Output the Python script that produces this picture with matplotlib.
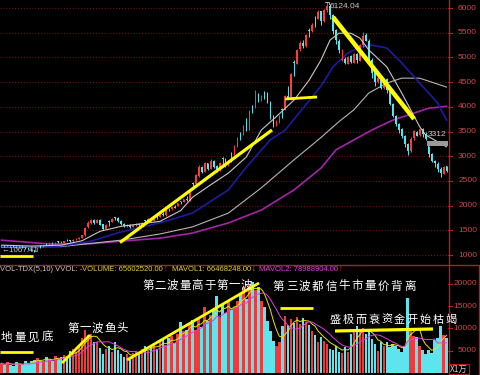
import matplotlib
matplotlib.use('Agg')
import matplotlib.pyplot as plt
from matplotlib import font_manager
from matplotlib.lines import Line2D
from matplotlib.patches import Rectangle
import numpy as np
import pandas as pd

# ---------------- data ----------------
opens = [
    1180, 1192, 1178, 1202, 1185, 1168, 1162, 1180, 1150, 1128,
    1125, 1100, 1088, 1178, 1170, 1222, 1212, 1248, 1228, 1274,
    1270, 1252, 1306, 1300, 1278, 1320, 1330, 1350, 1400, 1575,
    1638, 1712, 1650, 1716, 1618, 1528, 1690, 1670, 1760, 1750,
    1688, 1628, 1578, 1615, 1566, 1605, 1630, 1595, 1700, 1690,
    1730, 1690, 1790, 1778, 1828, 1800, 1935, 1922, 1980, 2000,
    2090, 2072, 2140, 2100, 2460, 2440, 2600, 2790, 2688, 2860,
    2740, 2910, 2795, 2720, 2958, 2950, 2810, 3060, 3050, 3200,
    3460, 3438, 3620, 3540, 4010, 3995, 4260, 4138, 4300, 4280,
    4092, 3795, 3652, 3705, 3960, 3938, 4220, 4150, 4900, 4870,
    5170, 5300, 5230, 5550, 5530, 5805, 5785, 5930, 5735, 5960,
    6045, 5860, 5545, 5340, 4940, 4965, 4870, 5020, 4895, 5070,
    4930, 5250, 5450, 5340, 4950, 4700, 4500, 4600, 4380, 4570,
    4350, 4050, 3820, 3650, 3550, 3400, 3240, 3100, 3360, 3500,
    3420, 3550, 3450, 3210, 3040, 2900, 2850, 2750, 2640, 2800]
closes = [
    1190, 1175, 1200, 1180, 1165, 1160, 1178, 1148, 1130, 1122,
    1098, 1085, 1150, 1172, 1205, 1215, 1245, 1225, 1252, 1268,
    1255, 1282, 1298, 1276, 1312, 1328, 1346, 1405, 1555, 1640,
    1710, 1655, 1712, 1615, 1530, 1605, 1675, 1725, 1748, 1685,
    1625, 1582, 1612, 1568, 1602, 1625, 1598, 1655, 1688, 1722,
    1695, 1745, 1775, 1825, 1805, 1905, 1925, 1975, 1955, 2045,
    2075, 2135, 2105, 2305, 2445, 2610, 2775, 2690, 2855, 2745,
    2905, 2790, 2725, 2860, 2945, 2815, 2905, 3045, 3180, 3355,
    3440, 3610, 3540, 3905, 3990, 4255, 4140, 4210, 4275, 4090,
    3790, 3655, 3700, 3820, 3940, 4210, 4160, 4660, 4880, 5160,
    5290, 5240, 5460, 5540, 5660, 5790, 5920, 5740, 5950, 6040,
    5850, 5540, 5350, 5140, 4960, 4880, 5010, 4900, 5060, 4940,
    5260, 5440, 5340, 4960, 4690, 4510, 4590, 4390, 4560, 4340,
    4060, 3810, 3660, 3540, 3410, 3240, 3110, 3340, 3510, 3410,
    3560, 3440, 3350, 3040, 2910, 2860, 2740, 2660, 2790, 2700]
highs = [
    1205, 1205, 1212, 1210, 1195, 1180, 1188, 1186, 1160, 1140,
    1132, 1110, 1160, 1195, 1212, 1235, 1255, 1258, 1262, 1285,
    1282, 1292, 1315, 1308, 1320, 1342, 1362, 1415, 1570, 1682,
    1732, 1722, 1730, 1722, 1630, 1622, 1702, 1742, 1772, 1762,
    1702, 1650, 1632, 1622, 1612, 1642, 1642, 1672, 1712, 1742,
    1745, 1755, 1800, 1835, 1872, 1912, 1952, 1985, 2022, 2062,
    2102, 2142, 2192, 2322, 2482, 2642, 2822, 2800, 2882, 2872,
    2940, 2922, 2830, 2880, 2990, 2962, 2930, 3080, 3230, 3380,
    3490, 3640, 3780, 3930, 4040, 4340, 4280, 4240, 4310, 4290,
    4120, 3830, 3740, 3830, 3980, 4230, 4430, 4690, 4940, 5180,
    5340, 5350, 5480, 5590, 5690, 5840, 5950, 5940, 5980, 6124,
    6080, 5870, 5580, 5380, 5180, 5000, 5030, 5050, 5080, 5080,
    5270, 5520, 5500, 5380, 4980, 4740, 4620, 4640, 4580, 4580,
    4380, 4080, 3830, 3680, 3580, 3420, 3270, 3380, 3530, 3520,
    3580, 3570, 3480, 3210, 3070, 2930, 2880, 2780, 2800, 2810]
lows = [
    1170, 1168, 1172, 1176, 1158, 1150, 1155, 1140, 1122, 1110,
    1090, 1067, 1082, 1140, 1165, 1195, 1205, 1218, 1220, 1245,
    1245, 1248, 1275, 1268, 1270, 1300, 1322, 1342, 1392, 1545,
    1628, 1630, 1645, 1598, 1508, 1518, 1590, 1660, 1700, 1668,
    1610, 1560, 1570, 1548, 1558, 1590, 1580, 1590, 1640, 1680,
    1680, 1688, 1730, 1770, 1795, 1795, 1890, 1915, 1948, 1990,
    2030, 2068, 2100, 2095, 2400, 2430, 2580, 2660, 2680, 2720,
    2735, 2770, 2680, 2700, 2830, 2790, 2800, 2880, 3030, 3180,
    3330, 3430, 3520, 3530, 3870, 3980, 4100, 4120, 4160, 4070,
    3760, 3600, 3620, 3680, 3780, 3930, 4150, 4140, 4620, 4860,
    5120, 5200, 5220, 5420, 5520, 5620, 5780, 5650, 5720, 5920,
    5780, 5480, 5280, 5080, 4920, 4860, 4860, 4880, 4880, 4880,
    4920, 5220, 5330, 4880, 4580, 4420, 4480, 4370, 4370, 4280,
    4040, 3790, 3620, 3470, 3370, 3180, 3020, 3080, 3320, 3400,
    3400, 3380, 3320, 2980, 2880, 2780, 2680, 2580, 2630, 2680]
volumes = [  # x 1万
    2200, 1700, 2500, 1900, 1600, 2400, 2000, 1700, 2600, 2100,
    2700, 3000, 3500, 2800, 2600, 3700, 3100, 2700, 3800, 3300,
    3600, 4100, 3700, 4900, 5500, 4700, 6300, 7900, 9600, 8500,
    8700, 6900, 7100, 5600, 4400, 5500, 6100, 4800, 7000, 5200,
    4200, 3600, 4200, 3500, 4500, 5000, 4300, 5400, 6000, 5000,
    6300, 6800, 5500, 7000, 7600, 6300, 7900, 8300, 6800, 8800,
    11600, 9400, 9600, 11000, 12000, 9800, 12300, 10400, 15000, 11800,
    13000, 14200, 17300, 12600, 15400, 13600, 16500, 14200, 15000, 16200,
    18000, 19500, 16800, 19900, 20500, 18800, 19400, 16200, 14800, 11800,
    9400, 7200, 6000, 7100, 10600, 12800, 10800, 12300, 11200, 12700,
    11000, 12400, 11600, 10800, 9400, 8600, 7000, 8200, 7200, 6600,
    5400, 5100, 6200, 4800, 4500, 5800, 4700, 8900, 9400, 10500,
    9600, 10200, 8800, 9600, 7600, 6600, 4900, 7100, 6000, 7000,
    5800, 6600, 6000, 5400, 4800, 6000, 17000, 10200, 8400, 8200,
    6200, 5100, 4400, 5300, 4600, 7400, 8000, 10500, 8600, 7900]

# moving-average curves of the price panel, read at sample candles
ma_short_idx = [0, 10, 20, 27, 33, 40, 53, 60, 64, 70, 76, 82, 87, 92, 98,
                103, 107, 110, 113, 117, 120, 123, 129, 134, 140, 142, 149]
ma_short_val = [1200, 1180, 1200, 1290, 1480, 1580, 1680, 1900, 2170, 2420,
                2660, 2985, 3530, 3800, 4140, 4540, 4950, 5350, 5490, 5490,
                5390, 5150, 4810, 4280, 3600, 3430, 3190]
ma_blue_idx = [0, 17, 22, 30, 39, 53, 64, 76, 82, 90, 95, 107, 111, 116,
               120, 124, 129, 134, 140, 146, 149]
ma_blue_val = [1180, 1170, 1200, 1280, 1450, 1650, 1850, 2320, 2780, 3330,
               3530, 4420, 4810, 5090, 5210, 5250, 5190, 4890, 4480, 4080, 3730]
ma_gray_idx = [0, 20, 40, 53, 64, 76, 87, 98, 107, 113, 118, 123, 129, 134,
               140, 144, 149]
ma_gray_val = [1160, 1170, 1300, 1425, 1570, 1850, 2360, 2930, 3380, 3700,
               3940, 4280, 4480, 4580, 4580, 4500, 4400]
ma_mag_idx = [0, 17, 30, 40, 53, 64, 76, 87, 98, 107, 112, 118, 124, 131,
              138, 143, 149]
ma_mag_val = [1300, 1220, 1230, 1280, 1340, 1445, 1650, 1910, 2320, 2760,
              3130, 3330, 3530, 3730, 3870, 3970, 4010]

price_ticks = [1000, 1500, 2000, 2500, 3000, 3500, 4000, 4500, 5000, 5500, 6000]
vol_ticks = [5000, 10000, 15000, 20000]

# ---------------- fonts ----------------
avail = {f.name for f in font_manager.fontManager.ttflist}
NUM = 'Liberation Sans Narrow' if 'Liberation Sans Narrow' in avail else 'Liberation Sans'
NUMF = [NUM, 'DejaVu Sans']
CJK = ['Noto Sans CJK SC', 'DejaVu Sans']

W, H = 480, 375
fig = plt.figure(figsize=(4.8, 3.75), dpi=100, facecolor='black')


def fx(xp):
    return xp / W


def fy(yp):
    return 1 - yp / H


axp = fig.add_axes([0, fy(264), 448 / W, 264 / H])
axv = fig.add_axes([0, 0, 448 / W, fy(265.5)])
for ax in (axp, axv):
    ax.set_facecolor('black')
    ax.axis('off')

n = len(closes)
x = np.arange(n)
o = np.array(opens, float)
c = np.array(closes, float)
hi = np.array(highs, float)
lo = np.array(lows, float)
up = c >= o
UPC, DNC = '#ff3c3c', '#54e8f0'
cols = [UPC if u else DNC for u in up]

axp.set_xlim(-0.5, n - 0.5)
axp.set_ylim(818, 6162)
for p in price_ticks:
    axp.axhline(p, color='#6e1515', lw=0.8, ls=(0, (1, 1.6)), zorder=0)

# moving averages
axp.plot(ma_mag_idx, ma_mag_val, color='#a424a8', lw=1.2, zorder=1)
axp.plot(ma_gray_idx, ma_gray_val, color='#b4b4b4', lw=0.8, zorder=1)
axp.plot(ma_blue_idx, ma_blue_val, color='#1c1ca0', lw=1.2, zorder=1)
axp.plot(ma_short_idx, ma_short_val, color='#c8c8c8', lw=0.8, zorder=3)

# candles
axp.vlines(x, lo, hi, colors=cols, lw=0.7, zorder=2)
bot = np.minimum(o, c)
ht = np.maximum(np.abs(c - o), 12)
axp.bar(x, ht, bottom=bot, width=0.5, color=cols, linewidth=0, zorder=2)

# gap marker
axp.add_patch(Rectangle((142.6, 3210), 149.5 - 142.6, 102, facecolor='#9a9a9a',
                        edgecolor='none', zorder=4))

# volume panel
v = np.array(volumes, float)
VUP, VDN = '#ee3a3a', '#5ee4ec'
vcols = [VUP if u else VDN for u in up]
axv.set_xlim(-0.5, n - 0.5)
axv.set_ylim(-450, 24270)
axv.bar(x, v, width=0.85, color=vcols, linewidth=0, zorder=1)
vs = pd.Series(v)
axv.plot(x, vs.rolling(5, min_periods=1).mean(), color='#e6e600', lw=0.7, zorder=2)
axv.plot(x, vs.rolling(10, min_periods=1).mean(), color='#e040e0', lw=0.7, zorder=2)

# frame lines
RED = '#b41e1e'
fig.add_artist(Line2D([fx(448.5), fx(448.5)], [0, 1], color=RED, lw=1.0))
fig.add_artist(Line2D([0, 1], [fy(264.5), fy(264.5)], color=RED, lw=1.0))
fig.add_artist(Line2D([fx(478.5), fx(478.5)], [0, fy(266)], color=RED, lw=1.0))

# right axis labels and ticks
LBL = '#cc4a4a'
for p in price_ticks:
    yp = 8 + (6000 - p) / 20.24
    fig.add_artist(Line2D([fx(448), fx(452)], [fy(yp), fy(yp)], color=RED, lw=0.8))
    fig.text(fx(477), fy(yp), f'{p}', color=LBL, ha='right', va='center',
             fontsize=6.0, family=NUMF)
for vv in vol_ticks:
    yv = 373 - vv / 224.7
    fig.add_artist(Line2D([fx(448), fx(452)], [fy(yv), fy(yv)], color=RED, lw=0.8))
    fig.text(fx(477), fy(yv), f'{vv}', color=LBL, ha='right', va='center',
             fontsize=6.0, family=NUMF)
fig.text(fx(450), fy(369), 'X1万', color='#d0d0d0', ha='left', va='center',
         fontsize=6.0, family=CJK,
         bbox=dict(boxstyle='square,pad=0.1', fc='none', ec=RED, lw=0.8))

# header of the volume panel
HY = 269.5
hdr = [
    (0, 'VOL-TDX(5,10) VVOL: -', '#c8c8c8'),
    (82, 'VOLUME: 65602520.00', '#d8d838'),
    (164, '↑', '#ff3030'),
    (172, 'MAVOL1: 66468248.00', '#d8d838'),
    (251.5, '↓', '#40d8f0'),
    (259, 'MAVOL2: 78988904.00', '#e040e0'),
    (339, '↑', '#ff3030'),
]
for hx, t, col in hdr:
    fig.text(fx(hx), fy(HY), t, color=col, ha='left', va='center',
             fontsize=5.5, family=NUMF)

# value labels in the price panel
fig.text(fx(330), fy(6), '6124.04', color='#c8c8c8', ha='left', va='center',
         fontsize=6.0, family=NUMF)
fig.add_artist(Line2D([fx(325), fx(329), fx(329)], [fy(1.5), fy(1.5), fy(4)],
                      color='#c8c8c8', lw=0.6))
fig.text(fx(428), fy(135), '3312', color='#c8c8c8', ha='left', va='center',
         fontsize=6.0, family=NUMF)
fig.text(fx(1), fy(250), '←1067.41', color='#c8c8c8', ha='left', va='center',
         fontsize=5.8, family=NUMF)

# yellow annotation strokes (pixel coords)
YEL = '#ffff00'
strokes = [
    ((120, 242.5), (272, 130), 2.3),
    ((285, 99), (317, 97), 2.0),
    ((333, 17), (414, 119), 3.2),
    ((0, 255.5), (33, 255.5), 2.0),
    ((0, 352), (33, 352), 2.0),
    ((62, 363), (90, 335), 2.0),
    ((127, 360), (259, 283), 2.0),
    ((280, 308), (313, 308), 2.0),
    ((335, 331), (433, 329), 2.3),
]
for (x0, y0), (x1, y1), lw in strokes:
    fig.add_artist(Line2D([fx(x0), fx(x1)], [fy(y0), fy(y1)], color=YEL, lw=lw,
                          solid_capstyle='butt'))


# Chinese annotations
def cjk_text(s, x0, yc, pitch, size=8.3):
    for k, ch in enumerate(s):
        fig.text(fx(x0 + k * pitch + pitch / 2), fy(yc), ch, color='white',
                 ha='center', va='center', fontsize=size, family=CJK)


cjk_text('地量见底', 0, 337, 13.5)
cjk_text('第一波鱼头', 67, 328, 12.2)
cjk_text('第二波量高于第一波', 142, 285, 12.3)
cjk_text('第三波都信牛市量价背离', 272, 286, 13.1)
cjk_text('盛极而衰资金开始枯竭', 329, 319.5, 12.8, size=8.0)

fig.savefig('out.png', dpi=100, facecolor='black')
